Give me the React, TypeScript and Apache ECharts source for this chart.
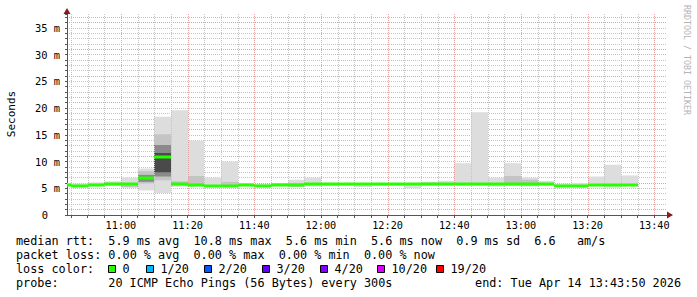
import { useEffect, useRef } from 'react';
import * as echarts from 'echarts';

// ---- data (5-minute bins, start time of each bin) ----
const binStarts = [
  '10:40', '10:45', '10:50', '10:55', '11:00', '11:05', '11:10', '11:15', '11:20', '11:25',
  '11:30', '11:35', '11:40', '11:45', '11:50', '11:55', '12:00', '12:05', '12:10', '12:15',
  '12:20', '12:25', '12:30', '12:35', '12:40', '12:45', '12:50', '12:55', '13:00', '13:05',
  '13:10', '13:15', '13:20', '13:25', '13:30',
];
const medianMs = [
  5.7, 5.5, 5.7, 5.8, 5.8, 7.0, 10.9, 5.75, 5.7, 5.5,
  5.5, 5.6, 5.5, 5.7, 5.6, 5.8, 5.75, 5.8, 5.75, 5.75,
  5.75, 5.75, 5.8, 5.8, 5.75, 5.75, 5.75, 5.8, 5.75, 5.8,
  5.5, 5.5, 5.6, 5.6, 5.6,
];
const smokeLo = [
  5.4, 5.3, 5.4, 5.4, 5.1, 4.6, 4.1, 5.3, 5.3, 5.3,
  5.3, 5.4, 5.3, 5.4, 5.2, 5.3, 5.4, 5.5, 5.2, 5.5,
  5.5, 5.0, 5.5, 5.5, 5.5, 5.5, 5.3, 5.4, 5.3, 5.5,
  5.3, 5.3, 5.4, 5.1, 5.4,
];
const smokeHi = [
  6.0, 5.9, 6.1, 6.3, 7.0, 8.7, 18.4, 19.6, 13.9, 7.0,
  10.0, 6.0, 5.8, 6.0, 6.6, 7.0, 6.0, 6.0, 5.9, 5.9,
  5.9, 5.9, 6.2, 6.4, 9.7, 19.2, 7.0, 9.7, 7.0, 6.35,
  5.85, 6.0, 7.2, 9.4, 7.4,
];
const n = null;
const midLo = [n, n, n, n, 5.2, 5.9, 6.5, 5.5, 5.4, n, 5.4, n, n, 5.5, 5.3, n, n, n, n, n, n, n, n, n, n, n, n, 5.6, 5.5, n, n, n, n, n, n];
const midHi = [n, n, n, n, 5.8, 8.2, 15.1, 6.3, 7.3, n, 6.2, n, n, 5.9, 6.0, n, n, n, n, n, n, n, n, n, n, n, n, 7.3, 6.6, n, n, n, n, n, n];
const darkLo = [n, n, n, n, n, 6.2, 7.2, n, n, n, n, n, n, n, n, n, n, n, n, n, n, n, n, n, n, n, n, n, n, n, n, n, n, n, n];
const darkHi = [n, n, n, n, n, 7.5, 13.1, n, n, n, n, n, n, n, n, n, n, n, n, n, n, n, n, n, n, n, n, n, n, n, n, n, n, n, n];
const coreLo = [n, n, n, n, n, n, 8.0, n, n, n, n, n, n, n, n, n, n, n, n, n, n, n, n, n, n, n, n, n, n, n, n, n, n, n, n];
const coreHi = [n, n, n, n, n, n, 11.6, n, n, n, n, n, n, n, n, n, n, n, n, n, n, n, n, n, n, n, n, n, n, n, n, n, n, n, n];

const xLabelTimes = ['11:00', '11:20', '11:40', '12:00', '12:20', '12:40', '13:00', '13:20', '13:40'];
const yLabelValues = [0, 5, 10, 15, 20, 25, 30, 35];

const legendLine1 = 'median rtt:  5.9 ms avg  10.8 ms max  5.6 ms min  5.6 ms now  0.9 ms sd  6.6   am/s';
const legendLine2 = 'packet loss: 0.00 % avg  0.00 % max  0.00 % min  0.00 % now';
const legendLine3 = 'loss color:';
const legendLine4 = 'probe:       20 ICMP Echo Pings (56 Bytes) every 300s';
const endText = 'end: Tue Apr 14 13:43:50 2026';
const lossLabels = ['0', '1/20', '2/20', '3/20', '4/20', '10/20', '19/20'];
const lossColors = ['#26ff00', '#00b8ff', '#0059ff', '#5e00ff', '#7e00ff', '#dd00ff', '#ff0000'];

// ---- layout / style ----
const W = 697;
const H = 297;
const GRID_LEFT = 67;
const GRID_TOP = 14;
const GRID_W = 600;
const GRID_H = 201;
const X_MIN = 10 * 60 + 43 + 50 / 60;
const X_MAX = X_MIN + 180;
const Y_MAX = 37.6;
const BIN = 5;
const MONO = "'DejaVu Sans Mono', monospace";
const CHAR_W = 7.1;
const LEG_FONT = 11.8;
const AXIS_COLOR = '#555555';
const ARROW_COLOR = '#8b1a1a';
const GRID_GREY = '#c4c4c4';
const GRID_RED = '#e3a3a3';
const SMOKE_COLORS = ['#dddddd', '#c4c4c4', '#8a8a8a', '#4a4a4a'];
const lossBoxX = [108, 146, 204, 262, 320, 377, 436];

const toMin = (s: string) => {
  const [h, m] = s.split(':').map(Number);
  return h * 60 + m;
};
const fmtTime = (v: number) => {
  const h = Math.floor(v / 60);
  const m = Math.round(v - h * 60);
  return `${String(h).padStart(2, '0')}:${String(m).padStart(2, '0')}`;
};

function layerData(lo: (number | null)[], hi: (number | null)[]) {
  const out: number[][] = [];
  binStarts.forEach((s, i) => {
    const a = lo[i];
    const b = hi[i];
    if (a == null || b == null) return;
    const t0 = toMin(s);
    out.push([Math.max(t0, X_MIN), t0 + BIN, a, b]);
  });
  return out;
}

function lineTokens(line: string, y: number) {
  const els: any[] = [];
  const re = /\S+(?: \S+)*/g;
  let m: RegExpExecArray | null;
  while ((m = re.exec(line))) {
    els.push({
      type: 'text',
      x: 16 + m.index * CHAR_W,
      y,
      silent: true,
      style: { text: m[0], font: `${LEG_FONT}px ${MONO}`, fill: '#000', align: 'left', verticalAlign: 'middle' },
    });
  }
  return els;
}

function vLineSeries(values: number[], color: string, z: number) {
  return {
    type: 'custom',
    coordinateSystem: 'cartesian2d',
    z,
    silent: true,
    data: values.map((v) => [v, 0]),
    encode: { x: 0, y: 1 },
    renderItem: (params: any, api: any) => {
      const v = api.value(0);
      const a = api.coord([v, 0]);
      const b = api.coord([v, Y_MAX]);
      const x = Math.round(a[0]) + 0.5;
      return {
        type: 'line',
        shape: { x1: x, y1: a[1], x2: x, y2: b[1] },
        style: { stroke: color, lineWidth: 1, lineDash: [1, 1] },
      };
    },
  };
}

export default function App() {
  const ref = useRef<HTMLDivElement>(null);
  useEffect(() => {
    if (!ref.current) return;
    const chart = echarts.init(ref.current, null, { renderer: 'svg' });

    const rectItem = (color: string) => (params: any, api: any) => {
      const p0 = api.coord([api.value(0), api.value(2)]);
      const p1 = api.coord([api.value(1), api.value(3)]);
      const x0 = Math.round(p0[0]);
      const x1 = Math.round(p1[0]);
      return {
        type: 'rect',
        shape: { x: x0, y: p1[1], width: x1 - x0, height: p0[1] - p1[1] },
        style: { fill: color },
      };
    };

    const smokeLayers = [
      layerData(smokeLo, smokeHi),
      layerData(midLo, midHi),
      layerData(darkLo, darkHi),
      layerData(coreLo, coreHi),
    ];

    const medianData = binStarts.map((s, i) => {
      const t0 = toMin(s);
      return [Math.max(t0, X_MIN), t0 + BIN, medianMs[i]];
    });

    const xLabelValues = xLabelTimes.map(toMin);
    const allV: number[] = [];
    for (let t = Math.ceil(X_MIN / 5) * 5; t < X_MAX; t += 5) allV.push(t);
    const majorV = xLabelValues.filter((v) => v > X_MIN && v < X_MAX);
    const minorV = allV.filter((v) => !majorV.includes(v));

    const series: any[] = smokeLayers.map((d, li) => ({
      type: 'custom',
      coordinateSystem: 'cartesian2d',
      z: 2 + li * 0.01,
      silent: true,
      renderItem: rectItem(SMOKE_COLORS[li]),
      data: d,
      encode: { x: [0, 1], y: [2, 3] },
    }));

    series.push(vLineSeries(minorV, GRID_GREY, 3));
    series.push(vLineSeries(majorV, GRID_RED, 3.1));

    series.push({
      type: 'custom',
      coordinateSystem: 'cartesian2d',
      z: 4,
      silent: true,
      data: medianData,
      encode: { x: [0, 1], y: 2 },
      renderItem: (params: any, api: any) => {
        const p0 = api.coord([api.value(0), api.value(2)]);
        const p1 = api.coord([api.value(1), api.value(2)]);
        const x0 = Math.round(p0[0]);
        const x1 = Math.round(p1[0]);
        return {
          type: 'rect',
          shape: { x: x0, y: Math.round(p0[1]) - 1.5, width: x1 - x0, height: 3 },
          style: { fill: lossColors[0] },
        };
      },
    });

    const graphic: any[] = [];
    graphic.push({
      type: 'polygon',
      silent: true,
      z: 100,
      shape: { points: [[GRID_LEFT, 8], [GRID_LEFT - 3.5, 14], [GRID_LEFT + 3.5, 14]] },
      style: { fill: ARROW_COLOR },
    });
    const xr = GRID_LEFT + GRID_W;
    const yb = GRID_TOP + GRID_H;
    graphic.push({
      type: 'polygon',
      silent: true,
      z: 100,
      shape: { points: [[xr + 6, yb], [xr, yb - 3.5], [xr, yb + 3.5]] },
      style: { fill: ARROW_COLOR },
    });
    graphic.push({
      type: 'text',
      x: 11,
      y: 114,
      rotation: Math.PI / 2,
      silent: true,
      style: { text: 'Seconds', font: `11px ${MONO}`, fill: '#000', align: 'center', verticalAlign: 'middle' },
    });
    graphic.push({
      type: 'text',
      x: 687,
      y: 60,
      rotation: -Math.PI / 2,
      silent: true,
      style: { text: 'RRDTOOL / TOBI OETIKER', font: `8.3px ${MONO}`, fill: '#b4b4b4', align: 'center', verticalAlign: 'middle' },
    });
    graphic.push(...lineTokens(legendLine1, 241));
    graphic.push(...lineTokens(legendLine2, 255));
    graphic.push(...lineTokens(legendLine3, 269));
    graphic.push(...lineTokens(legendLine4, 283));
    graphic.push({
      type: 'text',
      x: 681,
      y: 283,
      silent: true,
      style: { text: endText, font: `${LEG_FONT}px ${MONO}`, fill: '#000', align: 'right', verticalAlign: 'middle' },
    });
    lossLabels.forEach((lab, i) => {
      const bx = lossBoxX[i];
      graphic.push({
        type: 'rect',
        silent: true,
        shape: { x: bx + 0.5, y: 265.5, width: 7, height: 7 },
        style: { fill: lossColors[i], stroke: '#000', lineWidth: 1 },
      });
      graphic.push({
        type: 'text',
        x: bx + 14.5,
        y: 269,
        silent: true,
        style: { text: lab, font: `${LEG_FONT}px ${MONO}`, fill: '#000', align: 'left', verticalAlign: 'middle' },
      });
    });

    chart.setOption({
      animation: false,
      backgroundColor: '#ffffff',
      grid: { left: GRID_LEFT, top: GRID_TOP, width: GRID_W, height: GRID_H, containLabel: false },
      xAxis: {
        type: 'value',
        min: X_MIN,
        max: X_MAX,
        axisLine: { show: true, onZero: false, lineStyle: { color: AXIS_COLOR, width: 1 } },
        axisTick: { show: true, customValues: allV, length: 3, lineStyle: { color: AXIS_COLOR } },
        axisLabel: {
          customValues: xLabelValues,
          formatter: (v: number) => fmtTime(v),
          margin: 5,
          fontFamily: MONO,
          fontSize: 10.2,
          color: '#000',
        },
        splitLine: { show: false },
      },
      yAxis: {
        type: 'value',
        min: 0,
        max: Y_MAX,
        interval: 1,
        axisLine: { show: true, lineStyle: { color: AXIS_COLOR, width: 1 } },
        axisTick: { show: true, length: 2, lineStyle: { color: AXIS_COLOR } },
        axisLabel: {
          margin: 7,
          fontFamily: MONO,
          fontSize: 10.4,
          color: '#000',
          formatter: (v: number) => {
            const r = Math.round(v);
            if (Math.abs(v - r) > 1e-6 || !yLabelValues.includes(r)) return '';
            return r === 0 ? '{z|0}' : `${r} m`;
          },
          rich: { z: { fontFamily: MONO, fontSize: 10.4, color: '#000', padding: [0, 12, 0, 0] } },
        },
        splitLine: {
          show: true,
          showMinLine: false,
          showMaxLine: false,
          lineStyle: { color: [GRID_RED, GRID_GREY, GRID_GREY, GRID_GREY, GRID_GREY], type: [1, 1], width: 1 },
        },
      },
      series,
      graphic,
    });
    return () => chart.dispose();
  }, []);
  return <div ref={ref} style={{ position: 'absolute', left: 0, top: 0, width: W, height: H }} />;
}
